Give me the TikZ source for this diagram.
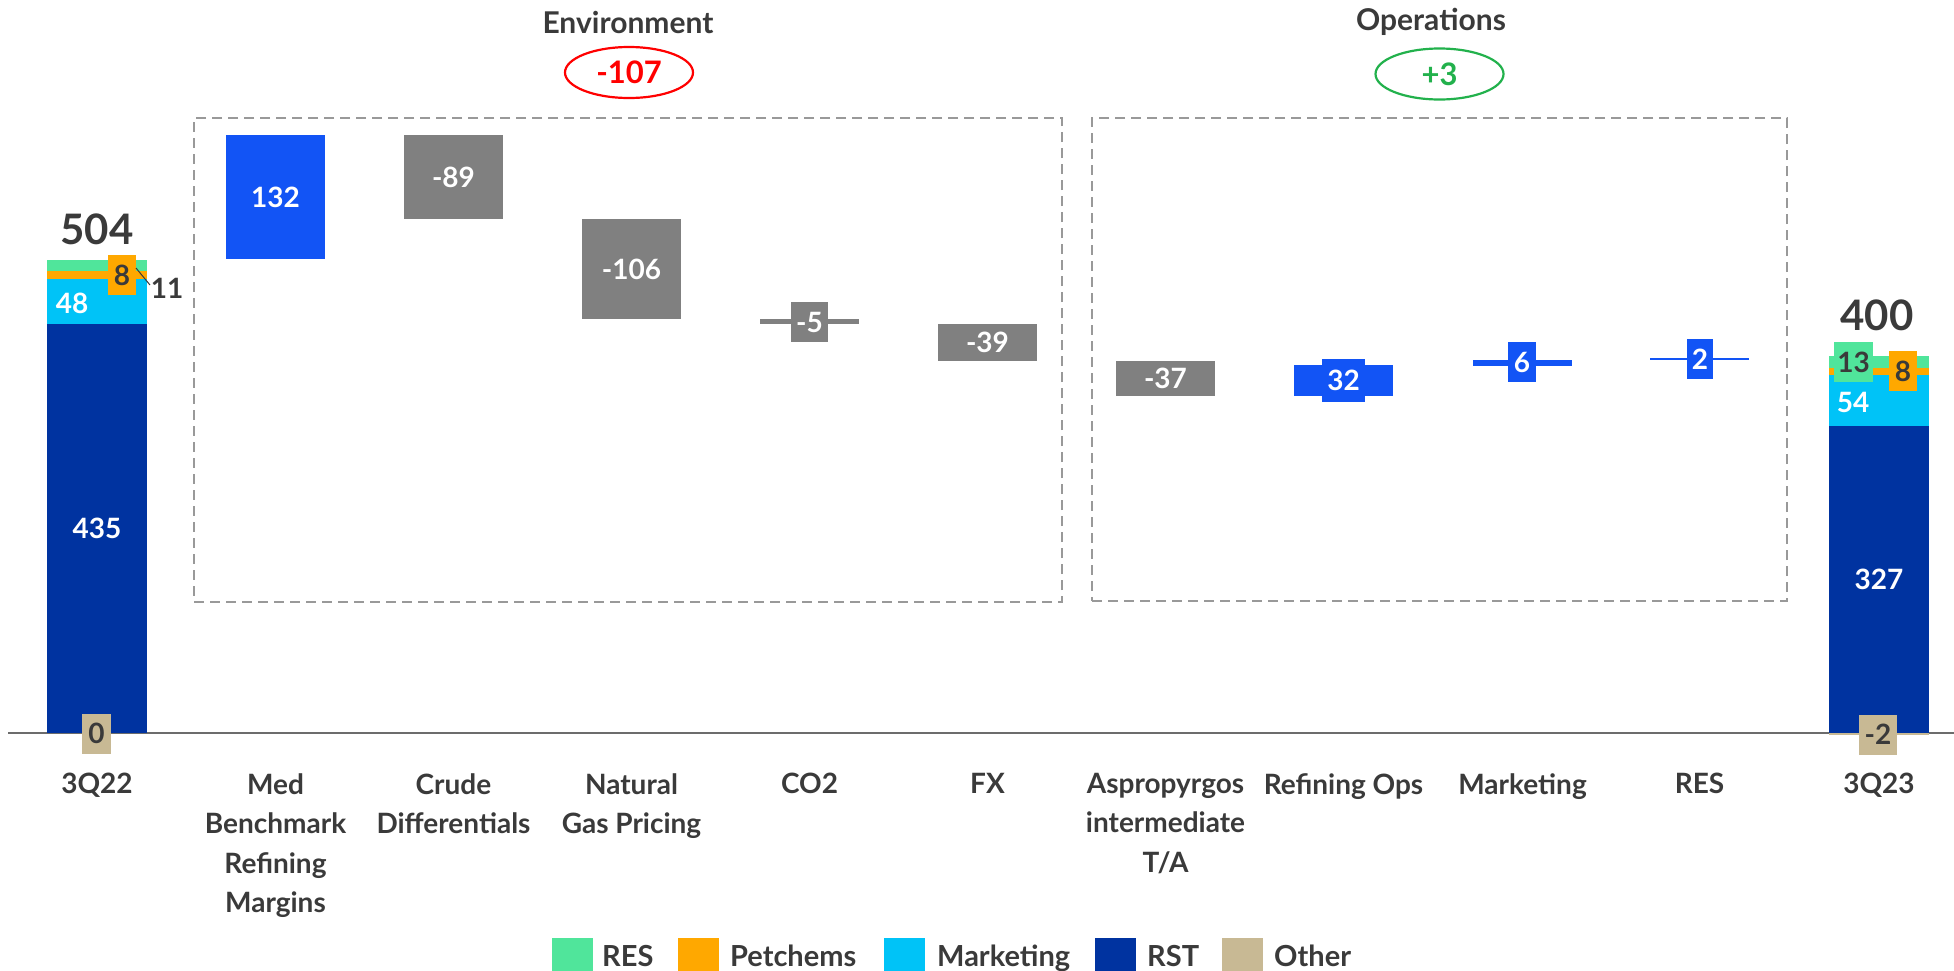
\documentclass[tikz,border=0pt]{standalone}
\usepackage{fontspec}
\setmainfont{Lato}
\usetikzlibrary{shapes.geometric}
\definecolor{blueB}{HTML}{1254F5}
\definecolor{rst}{HTML}{0033A0}
\definecolor{mkt}{HTML}{00C3F7}
\definecolor{resc}{HTML}{50E59B}
\definecolor{pet}{HTML}{FFA800}
\definecolor{oth}{HTML}{C8B994}
\definecolor{grayB}{HTML}{808080}
\definecolor{txt}{HTML}{3A3A3A}
\definecolor{grn}{HTML}{22B14C}
\tikzset{
 bar/.style={inner sep=0pt, outer sep=0pt, minimum width=99pt, draw=none, text=white},
 lbox/.style={inner sep=0pt, outer sep=0pt, minimum height=40pt, text=white},
 cat/.style={align=center, anchor=north, inner sep=0pt},
 dbox/.style={draw=gray!80, dash pattern=on 10pt off 6pt, line width=1.8pt},
 sw/.style={minimum width=41pt, minimum height=36pt, inner sep=0pt, anchor=north west},
 leg/.style={anchor=base west, inner sep=0pt, font=\bfseries\fontsize{29}{34}\selectfont},
 big/.style={font=\bfseries\fontsize{42}{48}\selectfont},
 ttl/.style={font=\bfseries\fontsize{30}{34}\selectfont},
 sumell/.style={ellipse, line width=2.2pt, minimum width=128pt, minimum height=51pt, inner sep=0pt, font=\bfseries\fontsize{31}{34}\selectfont},
}
\begin{document}
\begin{tikzpicture}[x=1pt,y=-1pt, font=\bfseries\fontsize{28}{39.5}\selectfont, text=txt]
\useasboundingbox (0,0) rectangle (1954,970);
% axis
\coordinate (axl) at (8,733);
\coordinate (axr) at (1954,733);
\draw[line width=1.8pt, draw=gray!85!black] (axl) -- (axr);
% dashed group boxes
\node[dbox, inner sep=0pt, minimum width=868pt, minimum height=484pt] (envbox) at (628,360) {};
\node[dbox, inner sep=0pt, minimum width=695pt, minimum height=483pt] (opsbox) at (1439.5,359.5) {};
% titles
\node[ttl] (envt) at (628,22) {Environment};
\node[sumell, draw=red, text=red] (envs) at (629,72.5) {-107};
\node[ttl] (opst) at (1431,22) {Operations};
\node[sumell, draw=grn, text=grn] (opss) at (1439.5,74) {+3};
% 3Q22 stacked bar
\node[bar, fill=rst, minimum width=100pt, minimum height=409pt] (a-rst) at (97,528.5) {435};
\node[bar, fill=mkt, minimum width=100pt, minimum height=45pt] (a-mkt) at (97,301.5) {};
\node[bar, fill=pet, minimum width=100pt, minimum height=8pt] (a-pet) at (97,275) {};
\node[bar, fill=resc, minimum width=100pt, minimum height=11pt] (a-res) at (97,265.5) {};
\node[text=white, inner sep=0pt] (a-mktl) at (72,303) {48};
\node[lbox, fill=pet, minimum width=28pt, text=txt] (a-petl) at (122,275) {8};
\node[inner sep=0pt] (a-resl) at (167,288) {11};
\coordinate (a-lead1) at (136,268);
\coordinate (a-lead2) at (150,285);
\draw[line width=1pt, draw=txt] (a-lead1) -- (a-lead2);
\node[lbox, fill=oth, minimum width=29pt, text=txt] (a-othl) at (96.5,733.5) {0};
\node[big, inner sep=0pt] (a-tot) at (97,229) {504};
% waterfall bars
\node[bar, fill=blueB, minimum height=124pt] (medb) at (275.5,197) {132};
\node[bar, fill=grayB, minimum height=84pt] (crude) at (453.5,177) {-89};
\node[bar, fill=grayB, minimum height=100pt] (ngas) at (631.5,269) {-106};
\node[bar, fill=grayB, minimum height=5pt] (co2) at (809.5,321.5) {};
\node[lbox, fill=grayB, minimum width=37pt] (co2l) at (809.5,322) {-5};
\node[bar, fill=grayB, minimum height=37pt] (fx) at (987.5,342.5) {-39};
\node[bar, fill=grayB, minimum height=35pt] (asp) at (1165.5,378.5) {-37};
\node[bar, fill=blueB, minimum height=31pt] (refo) at (1343.5,380.5) {};
\node[lbox, fill=blueB, minimum width=43pt, minimum height=43pt] (refol) at (1343.5,380.5) {32};
\node[bar, fill=blueB, minimum height=6pt] (mktw) at (1522.5,363) {};
\node[lbox, fill=blueB, minimum width=28pt] (mktwl) at (1522,362) {6};
\node[bar, fill=blueB, minimum height=2pt] (resw) at (1699.5,359) {};
\node[lbox, fill=blueB, minimum width=26pt] (reswl) at (1700,359) {2};
% 3Q23 stacked bar
\node[bar, fill=oth, minimum width=100pt, minimum height=2pt] (b-oth) at (1879,734) {};
\node[bar, fill=rst, minimum width=100pt, minimum height=307pt] (b-rst) at (1879,579.5) {327};
\node[bar, fill=mkt, minimum width=100pt, minimum height=51pt] (b-mkt) at (1879,400.5) {};
\node[bar, fill=pet, minimum width=100pt, minimum height=7pt] (b-pet) at (1879,371.5) {};
\node[bar, fill=resc, minimum width=100pt, minimum height=12pt] (b-res) at (1879,362) {};
\node[text=white, inner sep=0pt] (b-mktl) at (1853,402) {54};
\node[lbox, fill=resc, minimum width=39pt, text=txt] (b-resl) at (1853.5,362) {13};
\node[lbox, fill=pet, minimum width=28pt, text=txt] (b-petl) at (1903,371) {8};
\node[lbox, fill=oth, minimum width=38pt, text=txt] (b-othl) at (1878,734.5) {-2};
\node[big, inner sep=0pt] (b-tot) at (1877,315) {400};
% category labels
\node[cat] (c1) at (97,773) {3Q22};
\node[cat] (c2) at (275.5,773) {Med\\Benchmark\\Refining\\Margins};
\node[cat] (c3) at (453.5,773) {Crude\\Differentials};
\node[cat] (c4) at (631.5,773) {Natural\\Gas Pricing};
\node[cat] (c5) at (809.5,773) {CO2};
\node[cat] (c6) at (987.5,773) {FX};
\node[cat] (c7) at (1165.5,773) {Aspropyrgos\\intermediate\\T/A};
\node[cat] (c8) at (1343.5,773) {Refining Ops};
\node[cat] (c9) at (1522.5,773) {Marketing};
\node[cat] (c10) at (1699.5,773) {RES};
\node[cat] (c11) at (1879,773) {3Q23};
% legend
\node[sw, fill=resc] (s1) at (552,938) {};
\node[leg] (l1) at (602,966) {RES};
\node[sw, fill=pet] (s2) at (678,938) {};
\node[leg] (l2) at (730,966) {Petchems};
\node[sw, fill=mkt] (s3) at (884,938) {};
\node[leg] (l3) at (937,966) {Marketing};
\node[sw, fill=rst] (s4) at (1095,938) {};
\node[leg] (l4) at (1147,966) {RST};
\node[sw, fill=oth] (s5) at (1222,938) {};
\node[leg] (l5) at (1274,966) {Other};
\end{tikzpicture}
\end{document}
